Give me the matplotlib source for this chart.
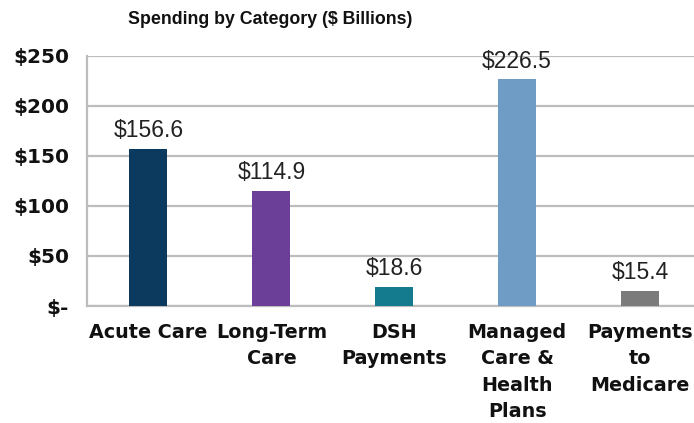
import matplotlib
matplotlib.use("Agg")
from matplotlib import pyplot as plt

categories = ["Acute Care", "Long-Term\nCare", "DSH\nPayments",
              "Managed\nCare &\nHealth\nPlans", "Payments\nto\nMedicare"]
spending = [156.6, 114.9, 18.6, 226.5, 15.4]
bar_colors = ["#0b3a5e", "#6b3f98", "#137b8d", "#6f9cc5", "#7b7b7b"]
y_ticks = [0, 50, 100, 150, 200, 250]
y_tick_labels = ["$-", "$50", "$100", "$150", "$200", "$250"]

plt.rcParams['font.family'] = ['Liberation Sans', 'DejaVu Sans']
heavy = ['DejaVu Sans']

fig = plt.figure(figsize=(6.94, 4.23), dpi=100)
ax = fig.add_axes([87 / 694, 117 / 423, 614.5 / 694, 250 / 423])

x = range(len(categories))
ax.bar(x, spending, width=0.31, color=bar_colors, zorder=3)

# value labels above each bar
for i, v in enumerate(spending):
    ax.text(i, v + 7, "${:.1f}".format(v), ha='center', va='bottom',
            fontsize=16.5, color='#222222')

ax.set_xlim(-0.5, 4.5)
ax.set_ylim(0, 250)
ax.set_yticks(y_ticks)
ax.set_yticklabels(y_tick_labels, fontsize=14.5, fontweight='bold', family=heavy,
                   color='#111111')
ax.set_xticks(list(x))
ax.set_xticklabels(categories, fontsize=13.8, fontweight='bold', family=heavy,
                   linespacing=1.5, va='top', color='#111111')
ax.tick_params(axis='both', length=0)
ax.tick_params(axis='y', pad=13)
ax.tick_params(axis='x', pad=12)

ax.grid(axis='y', color='#bdbdbd', linewidth=1.6, zorder=0)
for side in ['top', 'right']:
    ax.spines[side].set_visible(False)
ax.spines['left'].set_color('#bdbdbd')
ax.spines['left'].set_linewidth(1.6)
ax.spines['bottom'].set_color('#bdbdbd')
ax.spines['bottom'].set_linewidth(1.6)

fig.text(270 / 694, 1 - 20 / 423, "Spending by Category ($ Billions)",
         ha='center', va='center', fontsize=12.8, fontweight='bold',
         color='#111111')

plt.savefig("out.png", dpi=100)
